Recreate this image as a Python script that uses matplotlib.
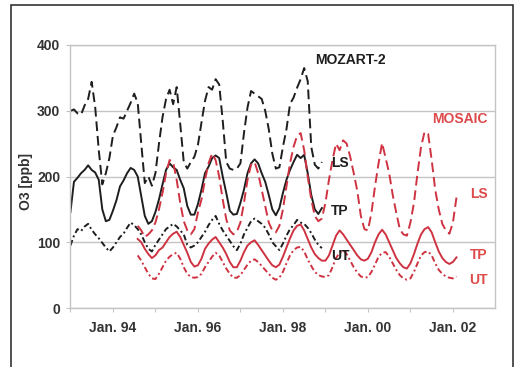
import numpy as np
import matplotlib
matplotlib.use('Agg')
import matplotlib.pyplot as plt
from matplotlib.patches import Rectangle

plt.rcParams['font.family'] = ['Liberation Sans', 'DejaVu Sans']
plt.rcParams['font.weight'] = 'bold'

# MOZART-2 monthly means, Jan 1993 .. Dec 1998 (ppb)
mozart_start = 1993.0
mozart_ls = [300, 302, 296, 294, 308, 318, 344, 305, 240, 188, 205, 228,
             262, 275, 290, 288, 300, 312, 326, 312, 250, 190, 200, 186,
             205, 250, 290, 318, 332, 310, 336, 280, 222, 212, 222, 230,
             248, 282, 315, 336, 332, 348, 340, 285, 222, 212, 210, 212,
             220, 266, 305, 330, 326, 322, 318, 300, 272, 235, 212, 214,
             245, 272, 310, 320, 335, 348, 365, 345, 245, 218, 212, 222]
mozart_tp = [146, 192, 198, 205, 210, 217, 210, 206, 195, 150, 132, 134,
             148, 164, 185, 194, 205, 213, 210, 200, 170, 140, 128, 132,
             146, 165, 188, 210, 220, 214, 210, 195, 182, 155, 142, 142,
             158, 180, 205, 215, 228, 232, 228, 200, 175, 148, 142, 143,
             160, 180, 205, 220, 226, 220, 205, 192, 172, 150, 141, 152,
             175, 195, 210, 222, 233, 228, 233, 205, 172, 150, 143, 152]
mozart_ut = [95, 110, 120, 117, 124, 128, 119, 112, 106, 99, 92, 86,
             92, 100, 108, 113, 122, 130, 126, 120, 112, 100, 90, 86,
             96, 104, 112, 120, 124, 128, 124, 118, 112, 96, 92, 95,
             100, 108, 116, 126, 134, 140, 128, 118, 110, 102, 94, 88,
             98, 112, 122, 132, 136, 132, 128, 122, 112, 100, 94, 88,
             98, 110, 120, 126, 134, 130, 128, 122, 114, 104, 96, 91]

# MOSAIC monthly means, Aug 1994 .. Feb 2002 (ppb)
mosaic_start = 1994 + 7 / 12
mosaic_ls = [125, 118, 108, 112, 118, 130, 150, 175, 205, 225, 222, 195,
             160, 132, 118, 112, 120, 145, 165, 195, 220, 235, 225, 200,
             165, 135, 118, 112, 116, 130, 160, 195, 218, 222, 205, 180,
             155, 130, 118, 115, 125, 150, 185, 220, 245, 262, 266, 240,
             200, 165, 140, 132, 136, 160, 195, 225, 250, 240, 255, 250,
             230, 205, 178, 140, 120, 118, 145, 185, 220, 251, 228, 205,
             172, 145, 120, 112, 110, 130, 160, 205, 245, 268, 265, 225,
             180, 150, 128, 118, 113, 130, 168]
mosaic_tp = [105, 100, 90, 82, 76, 80, 88, 92, 100, 108, 113, 116,
             108, 96, 84, 70, 63, 65, 75, 90, 98, 104, 108, 100,
             92, 82, 70, 62, 62, 72, 85, 95, 100, 103, 96, 88,
             80, 72, 65, 62, 66, 78, 92, 106, 118, 125, 127, 118,
             105, 92, 82, 76, 72, 72, 80, 95, 110, 118, 112, 104,
             96, 88, 80, 74, 72, 75, 85, 100, 112, 119, 112, 100,
             88, 76, 68, 62, 60, 68, 82, 98, 112, 120, 123, 115,
             100, 86, 76, 70, 67, 70, 77]
mosaic_ut = [80, 72, 62, 52, 45, 44, 52, 62, 72, 78, 82, 84,
             75, 62, 52, 47, 46, 47, 52, 62, 70, 78, 84, 80,
             70, 60, 52, 46, 46, 50, 58, 66, 72, 74, 70, 64,
             58, 52, 46, 43, 46, 55, 68, 80, 88, 92, 93, 86,
             74, 64, 55, 50, 48, 47, 50, 62, 76, 84, 88, 82,
             72, 62, 54, 48, 46, 47, 55, 66, 78, 84, 85, 78,
             68, 58, 50, 45, 43, 45, 55, 68, 80, 85, 86, 80,
             68, 58, 52, 48, 46, 45, 48]

year_ticks = list(range(1993, 2003))
year_labels = ['', 'Jan. 94', '', 'Jan. 96', '', 'Jan. 98', '', 'Jan. 00', '', 'Jan. 02']
y_ticks = [0, 100, 200, 300, 400]

black = '#1e1e1e'
red = '#cf3342'
grey = '#c4c4c4'

t_moz = mozart_start + np.arange(len(mozart_ls)) / 12
t_mos = mosaic_start + np.arange(len(mosaic_ls)) / 12

fig = plt.figure(figsize=(5.19, 3.67), dpi=100)
ax = fig.add_axes([70 / 519, 59 / 367, 425 / 519, 263 / 367])

ax.plot(t_moz, mozart_ls, color=black, lw=1.4, dashes=(5, 2.5))
ax.plot(t_moz, mozart_tp, color=black, lw=1.4)
ax.plot(t_moz, mozart_ut, color=black, lw=1.4, dashes=(3, 1.5, 1, 1.5))

ax.plot(t_mos, mosaic_ls, color=red, lw=1.4, dashes=(5, 2.5))
ax.plot(t_mos, mosaic_tp, color=red, lw=1.4)
ax.plot(t_mos, mosaic_ut, color=red, lw=1.4, dashes=(3, 1.5, 1, 1.5))

ax.set_xlim(1992.99, 2002.99)
ax.set_ylim(0, 400)
ax.set_xticks(year_ticks)
ax.set_xticklabels(year_labels)
ax.set_yticks(y_ticks)
ax.yaxis.grid(True, color=grey, lw=1.0)
ax.set_axisbelow(True)
for s in ax.spines.values():
    s.set_color(grey)
    s.set_linewidth(1.0)
ax.tick_params(axis='both', colors=grey, length=3, labelsize=10,
               labelcolor='#333333')
ax.tick_params(axis='x', pad=6)
ax.tick_params(axis='y', pad=4)

fig.text(26 / 519, 1 - 182 / 367, 'O3 [ppb]', rotation=90, ha='center',
         va='center', fontsize=10, fontweight='bold', color='#333333')

txt = dict(fontsize=10, fontweight='bold', ha='center', va='center')
ax.text(1999.58, 377, 'MOZART-2', color=black, **txt)
ax.text(2002.16, 287, 'MOSAIC', color='#dd4a4a', **txt)
ax.text(1999.34, 220, 'LS', color=black, **txt)
ax.text(1999.34, 148, 'TP', color=black, **txt)
ax.text(1999.34, 79, 'UT', color=black, **txt)
ax.text(2002.61, 173, 'LS', color='#dd4a4a', **txt)
ax.text(2002.61, 81, 'TP', color='#dd4a4a', **txt)
ax.text(2002.61, 43, 'UT', color='#dd4a4a', **txt)

fig.patches.append(Rectangle((11 / 519, -0.02), 502 / 519, 1 - 5 / 367 + 0.02,
                             transform=fig.transFigure, fill=False,
                             edgecolor='#222222', lw=1.1))

fig.savefig('out.png', dpi=100)
